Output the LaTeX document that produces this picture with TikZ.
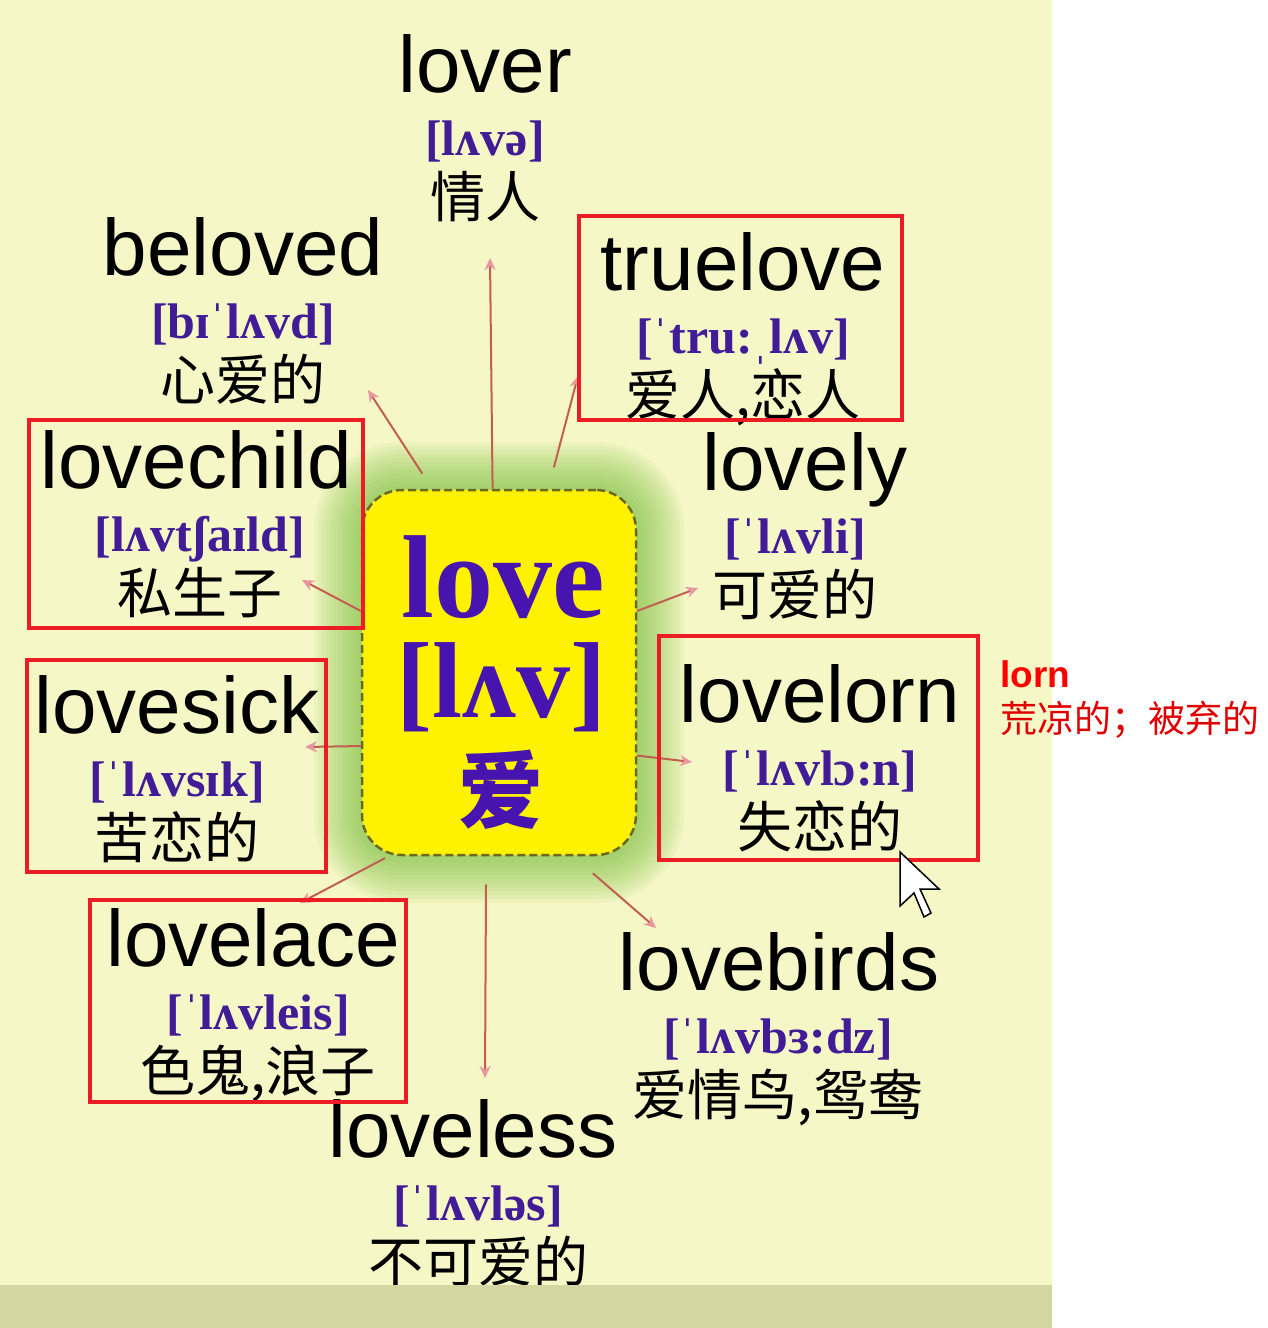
\documentclass[tikz,border=0pt]{standalone}
\usepackage{fontspec}
\setmainfont{Liberation Sans}
\newfontfamily\cnfont{Noto Sans CJK SC}
\newfontfamily\ipafont{Liberation Serif}
\usetikzlibrary{arrows.meta}
\definecolor{pagebg}{RGB}{245,247,198}
\definecolor{bandbg}{RGB}{212,214,162}
\definecolor{ipablue}{RGB}{66,28,150}
\definecolor{corepurple}{RGB}{72,20,175}
\definecolor{halo}{RGB}{120,190,60}
\definecolor{boxred}{RGB}{236,28,36}
\definecolor{linkred}{RGB}{195,95,80}
\definecolor{tippink}{RGB}{232,150,160}
\begin{document}
\begin{tikzpicture}[x=1pt, y=-1pt,
    word/.style={anchor=base, inner sep=0pt, font=\fontsize{80}{90}\selectfont},
    phon/.style={anchor=base, inner sep=0pt, text=ipablue, font=\ipafont\bfseries\fontsize{50}{56}\selectfont},
    cn/.style={anchor=base, inner sep=0pt, font=\cnfont\fontsize{55}{60}\selectfont},
    corebox/.style={fill=yellow, draw=olive!70!black, line width=2.5pt, dash pattern=on 8pt off 4pt,
      rounded corners=40pt, minimum width=274pt, minimum height=365pt},
    link/.style={draw=linkred, line width=2pt, -{Stealth[length=12pt,width=11pt,color=tippink]}},
    redbox/.style={draw=boxred, line width=3.5pt}]
  \useasboundingbox (0,0) rectangle (1268,1328);
  \fill[pagebg] (0,0) rectangle (1052,1328);
  % green halo round the centre box
  \foreach \g [evaluate=\g as \r using 40+\g] in {4,8,...,48}
    \fill[halo, opacity=0.075, rounded corners=\r pt] (362-\g,490-\g) rectangle (636+\g,855+\g);
  \node[corebox] (core) at (499,672.5) {};
  \node[anchor=base, text=corepurple, font=\ipafont\bfseries\fontsize{118}{120}\selectfont] (core-w) at (503,617) {love};
  \node[anchor=base, text=corepurple, font=\ipafont\bfseries\fontsize{108}{110}\selectfont] (core-p) at (501,717) {[lʌv]};
  \node[anchor=base, text=corepurple, font=\cnfont\bfseries\fontsize{85}{90}\selectfont] (core-c) at (501,821) {爱};
  % arrows out of the box: name/angle/head x/head y/shorten
  \foreach \n/\a/\hx/\hy/\s in {lover/92/490/258/0, beloved/110/368/390/18, truelove/75/578/376/22,
      lovechild/156/302/580/0, lovesick/208/305/747/0, lovely/24/698/588/0, lovelorn/329/692/762/0,
      lovelace/239/300/903/4, loveless/266/485/1078/28, lovebirds/292/656/928/26}{
    \coordinate (h-\n) at (\hx,\hy);
    \draw[link, shorten <=\s pt] (core.\a) -- (h-\n);
  }
  % words: word/x/baseline/x of lower lines/phonetics/meaning
  \foreach \n/\x/\y/\u/\p/\c in {lover/485/92/485/{[lʌvə]}/情人,
      beloved/243/275/243/{[bɪˈlʌvd]}/心爱的,
      truelove/743/290/743/{[ˈtru:ˌlʌv]}/{爱人,恋人},
      lovechild/196/488/200/{[lʌvtʃaɪld]}/私生子,
      lovely/805/490/795/{[ˈlʌvli]}/可爱的,
      lovesick/177/733/177/{[ˈlʌvsɪk]}/苦恋的,
      lovelorn/820/722/820/{[ˈlʌvlɔ:n]}/失恋的,
      lovelace/253/966/258/{[ˈlʌvleis]}/{色鬼,浪子},
      lovebirds/779/990/778/{[ˈlʌvbɜ:dz]}/{爱情鸟,鸳鸯},
      loveless/473/1157/478/{[ˈlʌvləs]}/不可爱的}{
    \node[word] (\n) at (\x,\y) {\n};
    \node[phon] (\n-p) at (\u,\y+63) {\p};
    \node[cn] (\n-c) at (\u,\y+125) {\c};
  }
  \fill[bandbg] (0,1285) rectangle (1052,1328);
  % highlighted words
  \draw[redbox] (579,216) rectangle (902,420);
  \draw[redbox] (29,420) rectangle (363,628);
  \draw[redbox] (27,660) rectangle (326,872);
  \draw[redbox] (659,636) rectangle (978,860);
  \draw[redbox] (90,900) rectangle (406,1102);
  % side note
  \node[anchor=base west, inner sep=0pt, text=red, font=\bfseries\fontsize{37}{40}\selectfont] (note-w) at (1000,687) {lorn};
  \node[anchor=base west, inner sep=0pt, text=red!88!black, font=\cnfont\fontsize{37}{40}\selectfont] (note-c) at (1000,732) {荒凉的；被弃的};
  % mouse pointer
  \draw[fill=white, line width=1.5pt] (900,852) -- ++(0,54) -- ++(14,-13) -- ++(10,24) -- ++(7,-4) -- ++(-11,-24) -- ++(19,0) -- cycle;
\end{tikzpicture}
\end{document}
